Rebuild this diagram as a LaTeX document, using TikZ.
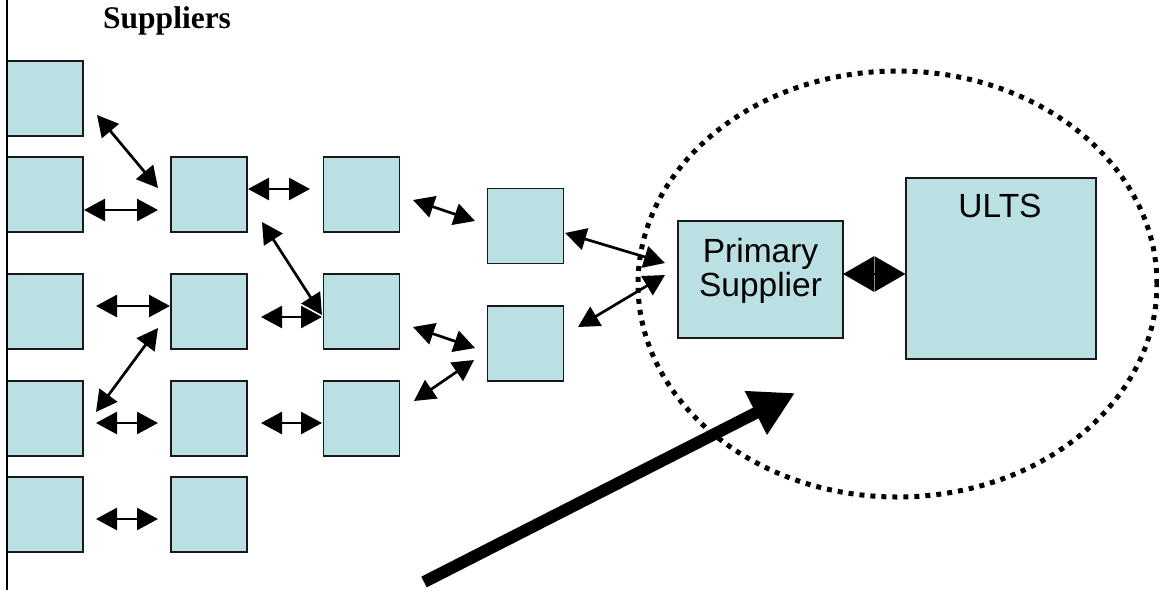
\documentclass[tikz,border=0pt]{standalone}
\usepackage{fontspec}
\setmainfont{Liberation Serif}
\newfontfamily\arialfont{Liberation Sans}
\usetikzlibrary{arrows.meta}
\definecolor{boxfill}{HTML}{BBE0E3}
\tikzset{
  sbox/.style={draw=black!90, line width=1.6pt, fill=boxfill, inner sep=0pt,
    minimum width=76pt, minimum height=75pt},
  dbl/.style={line width=2.7pt,
    {Triangle[length=21pt,width=22pt]}-{Triangle[length=21pt,width=22pt]}},
  bigdbl/.style={line width=2.5pt,
    {Triangle[length=31pt,width=35pt]}-{Triangle[length=31pt,width=35pt]}},
  bigarrow/.style={line width=12pt, -{Triangle[length=44pt,width=46pt]}},
  lbl/.style={inner sep=0pt, font=\arialfont\fontsize{33.5}{34}\selectfont}
}
\begin{document}
\begin{tikzpicture}[x=1pt,y=-1pt]
\useasboundingbox (0,0) rectangle (1159,590);

% boxes
\node[sbox] (r1c1) at (45,98.5) {};
\node[sbox] (r2c1) at (45,194.5) {};
\node[sbox] (r3c1) at (45,311.5) {};
\node[sbox] (r4c1) at (45,418.5) {};
\node[sbox] (r5c1) at (45,514.5) {};
\node[sbox] (r2c2) at (209,194.5) {};
\node[sbox] (r3c2) at (209,311.5) {};
\node[sbox] (r4c2) at (209,418.5) {};
\node[sbox] (r5c2) at (209,514.5) {};
\node[sbox] (r2c3) at (361.5,194.5) {};
\node[sbox] (r3c3) at (361.5,311.5) {};
\node[sbox] (r4c3) at (361.5,418.5) {};
\node[sbox] (u1) at (525.5,226) {};
\node[sbox] (u2) at (525.5,343.5) {};
\node[sbox, minimum width=165pt, minimum height=117pt] (ps) at (760.5,279.5) {};
\node[sbox, minimum width=190pt, minimum height=181pt] (ults) at (1001,268.5) {};

% left vertical line
\coordinate (vtop) at (7,0);
\coordinate (vbot) at (7,590);
\draw[line width=2.2pt] (vtop) -- (vbot);

% texts
\node[inner sep=0pt, anchor=base west, font=\bfseries\fontsize{31.5}{36}\selectfont] (sup) at (103,28) {Suppliers};
\node[lbl, align=center] (pstext) at (760.5,271) {Primary\\Supplier};
\node[lbl, anchor=base] (ultstext) at (1000,217) {ULTS};

% arrow end points
\coordinate (a1s) at (97,115);   \coordinate (a1e) at (158,188);
\coordinate (a2s) at (84,210);   \coordinate (a2e) at (158,210);
\coordinate (a3s) at (248,189);  \coordinate (a3e) at (310,189);
\coordinate (a4s) at (262,222);  \coordinate (a4e) at (322,315);
\coordinate (a5s) at (96,306);   \coordinate (a5e) at (170,306);
\coordinate (a6s) at (261,317);  \coordinate (a6e) at (322,317);
\coordinate (a7s) at (96,412);   \coordinate (a7e) at (158,328);
\coordinate (a8s) at (96,423);   \coordinate (a8e) at (158,423);
\coordinate (a9s) at (261,423);  \coordinate (a9e) at (322,423);
\coordinate (a10s) at (96,519);  \coordinate (a10e) at (158,519);
\coordinate (a11s) at (413,200); \coordinate (a11e) at (475,221);
\coordinate (a12s) at (413,327); \coordinate (a12e) at (475,348);
\coordinate (a13s) at (414,401); \coordinate (a13e) at (474,360);
\coordinate (a14s) at (565,233); \coordinate (a14e) at (665,263);
\coordinate (a15s) at (578,327); \coordinate (a15e) at (665,275);
\coordinate (a16s) at (843,274); \coordinate (a16e) at (905.5,274);

\draw[dbl] (a1s) -- (a1e);
\draw[dbl] (a2s) -- (a2e);
\draw[dbl] (a3s) -- (a3e);
\draw[dbl] (a4s) -- (a4e);
\draw[dbl] (a5s) -- (a5e);
\draw[dbl] (a6s) -- (a6e);
\draw[dbl] (a7s) -- (a7e);
\draw[dbl] (a8s) -- (a8e);
\draw[dbl] (a9s) -- (a9e);
\draw[dbl] (a10s) -- (a10e);
\draw[dbl] (a11s) -- (a11e);
\draw[dbl] (a12s) -- (a12e);
\draw[dbl] (a13s) -- (a13e);
\draw[dbl] (a14s) -- (a14e);
\draw[dbl] (a15s) -- (a15e);
\draw[bigdbl] (a16s) -- (a16e);

% dotted ellipse
\coordinate (ec) at (897.5,284);
\draw[line width=5pt, dash pattern=on 5pt off 6pt] (ec) ellipse [x radius=259.5pt, y radius=213pt];

% big arrow
\coordinate (bs) at (424,582);
\coordinate (be) at (795,393);
\draw[bigarrow] (bs) -- (be);
\end{tikzpicture}
\end{document}
